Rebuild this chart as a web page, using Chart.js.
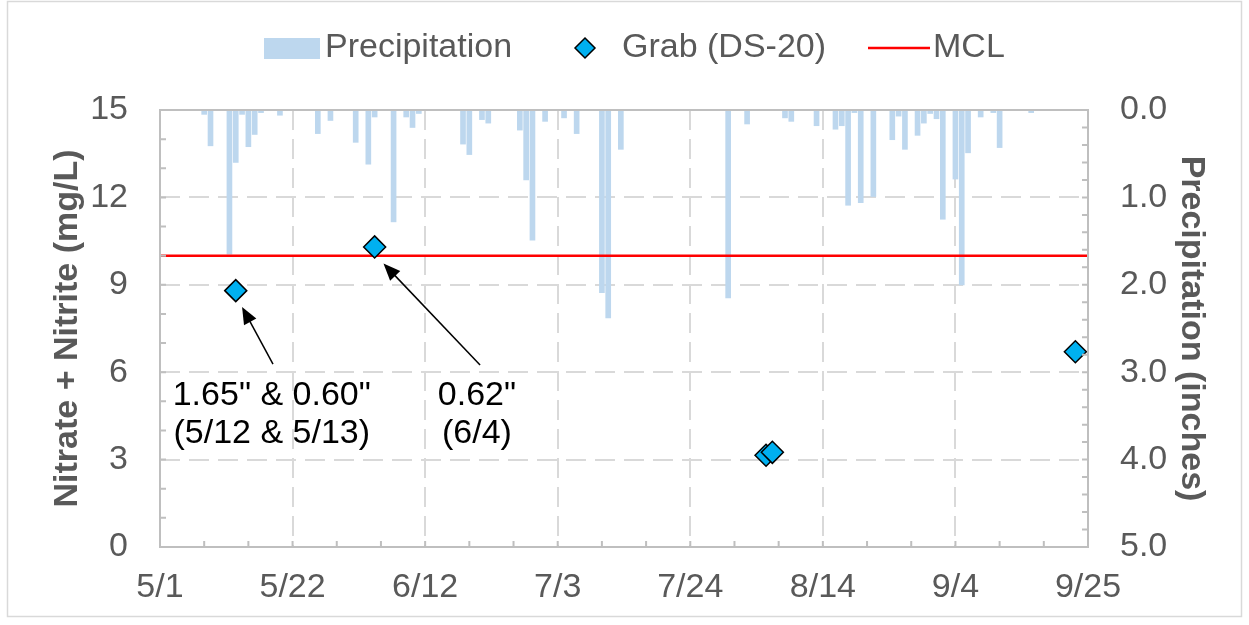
<!DOCTYPE html>
<html><head><meta charset="utf-8">
<script src="https://cdn.jsdelivr.net/npm/chart.js@4.4.1/dist/chart.umd.min.js"></script>
<style>html,body{margin:0;padding:0;background:#fff;} #wrap{width:1249px;height:625px;position:relative;}</style>
</head><body><div id="wrap"><canvas id="c" width="1249" height="625"></canvas></div>
<script>
// ---- data ----
const xTickLabels = ["5/1","5/22","6/12","7/3","7/24","8/14","9/4","9/25"];
const precipDates = ["5/8","5/9","5/12","5/13","5/14","5/15","5/16","5/17","5/20","5/26","5/28",
  "6/1","6/3","6/4","6/7","6/9","6/10","6/11","6/18","6/19","6/21","6/22","6/27","6/28","6/29",
  "7/1","7/4","7/6","7/10","7/11","7/13","7/30",
  "8/2","8/8","8/9","8/13","8/16","8/17","8/18","8/19","8/20","8/22","8/25","8/26","8/27","8/29","8/30","8/31",
  "9/1","9/2","9/4","9/5","9/6","9/8","9/10","9/11","9/16"];
const precipInches = [0.05,0.41,1.65,0.60,0.05,0.42,0.28,0.03,0.06,0.27,0.12,
  0.37,0.62,0.08,1.28,0.08,0.20,0.04,0.39,0.51,0.11,0.15,0.23,0.80,1.49,
  0.13,0.09,0.27,2.09,2.38,0.45,2.15,
  0.16,0.09,0.13,0.18,0.22,0.18,1.09,0.03,1.06,0.99,0.34,0.07,0.45,0.29,0.15,0.04,
  0.10,1.25,0.79,2.00,0.49,0.08,0.03,0.43,0.03];
const grabDates = ["5/13","6/4","8/5","8/6","9/23"];
const grabNitrate = [8.8,10.3,3.15,3.25,6.7];
const mclValue = 10;
const mclSpan = ["5/1","9/25"];
const legendLabels = ["Precipitation","Grab (DS-20)","MCL"];
const noteTexts = [["1.65\" & 0.60\"","(5/12 & 5/13)"],["0.62\"","(6/4)"]];

function dayOfSeason(s){const [m,d]=s.split('/').map(Number);return Math.round((Date.UTC(2021,m-1,d)-Date.UTC(2021,4,1))/86400000);}

const FONT='Liberation Sans, Arial, sans-serif';
const GRAY_TXT='#595959';

const framePlugin={id:'frame',
  beforeDraw(chart){const c=chart.ctx;c.save();c.fillStyle='#fff';c.fillRect(0,0,chart.width,chart.height);
    c.strokeStyle='#D9D9D9';c.lineWidth=1.5;c.strokeRect(7.5,1.5,1234,615);c.restore();},
  afterDatasetsDraw(chart){const c=chart.ctx,a=chart.chartArea,s=chart.scales;c.save();
    c.strokeStyle='#BFBFBF';c.lineWidth=2;c.strokeRect(a.left,a.top,a.right-a.left,a.bottom-a.top);
    c.beginPath();const L=6;
    for(let d=0;d<=147;d+=7){const x=s.x.getPixelForValue(d);c.moveTo(x,a.bottom);c.lineTo(x,a.bottom-L);}
    for(let v=0;v<=15;v+=1){const y=s.y.getPixelForValue(v);c.moveTo(a.left,y);c.lineTo(a.left+L,y);}
    for(let k=0;k<=25;k++){const y=s.y2.getPixelForValue(k*0.2);c.moveTo(a.right,y);c.lineTo(a.right-L,y);}
    c.stroke();c.restore();}
};

function arrow(c,x1,y1,x2,y2){const ang=Math.atan2(y2-y1,x2-x1),hl=17,hw=7;
  c.beginPath();c.moveTo(x1,y1);c.lineTo(x2-Math.cos(ang)*hl*0.8,y2-Math.sin(ang)*hl*0.8);c.stroke();
  c.beginPath();c.moveTo(x2,y2);
  c.lineTo(x2-hl*Math.cos(ang)+hw*Math.sin(ang),y2-hl*Math.sin(ang)-hw*Math.cos(ang));
  c.lineTo(x2-hl*Math.cos(ang)-hw*Math.sin(ang),y2-hl*Math.sin(ang)+hw*Math.cos(ang));
  c.closePath();c.fill();}

const notePlugin={id:'notes',afterDraw(chart){const c=chart.ctx,sx=chart.scales.x,sy=chart.scales.y;c.save();
  c.strokeStyle='#000';c.fillStyle='#000';c.lineWidth=1.5;
  const notes=[{tx:17.7,ty:[5.2,3.9],from:[17.9,6.28],to:[13.0,8.24]},{tx:50.2,ty:[5.2,3.9],from:[50.7,6.25],to:[35.4,9.73]}];
  notes.forEach((n,i)=>{arrow(c,sx.getPixelForValue(n.from[0]),sy.getPixelForValue(n.from[1]),sx.getPixelForValue(n.to[0]),sy.getPixelForValue(n.to[1]));
    c.font='34px '+FONT;c.textAlign='center';c.textBaseline='middle';
    noteTexts[i].forEach((t,j)=>c.fillText(t,sx.getPixelForValue(n.tx),sy.getPixelForValue(n.ty[j])));});
  // legend
  const y=48;c.font='34px '+FONT;c.textAlign='left';c.textBaseline='middle';c.fillStyle=GRAY_TXT;
  c.fillStyle='#BDD7EE';c.fillRect(264,38,56,21);c.fillStyle=GRAY_TXT;c.fillText(legendLabels[0],325,y);
  c.beginPath();c.moveTo(585,y-10);c.lineTo(595,y);c.lineTo(585,y+10);c.lineTo(575,y);c.closePath();
  c.fillStyle='#00B0F0';c.fill();c.strokeStyle='#000';c.lineWidth=1.5;c.stroke();
  c.fillStyle=GRAY_TXT;c.fillText(legendLabels[1],622,y);
  c.strokeStyle='#FF0000';c.lineWidth=2.5;c.beginPath();c.moveTo(868,y);c.lineTo(930,y);c.stroke();
  c.fillStyle=GRAY_TXT;c.fillText(legendLabels[2],933,y);
  c.restore();}};

const tickFont={family:FONT,size:34};
new Chart(document.getElementById('c'),{
  type:'bar',
  data:{datasets:[
    {type:'scatter',label:legendLabels[1],data:grabDates.map((d,i)=>({x:dayOfSeason(d),y:grabNitrate[i]})),yAxisID:'y',
      pointStyle:'rectRot',pointRadius:11,pointHoverRadius:11,backgroundColor:'#00B0F0',borderColor:'#000',borderWidth:1.5,order:0},
    {type:'line',label:legendLabels[2],data:mclSpan.map(d=>({x:dayOfSeason(d),y:mclValue})),yAxisID:'y',
      borderColor:'#FF0000',borderWidth:2.5,pointRadius:0,order:1},
    {type:'bar',label:legendLabels[0],data:precipDates.map((d,i)=>({x:dayOfSeason(d),y:precipInches[i]})),yAxisID:'y2',
      backgroundColor:'#BDD7EE',barThickness:5,order:2}
  ]},
  options:{responsive:false,animation:false,events:[],
    layout:{padding:{top:110,left:0,right:0,bottom:0}},
    plugins:{legend:{display:false},tooltip:{enabled:false}},
    scales:{
      x:{type:'linear',min:0,max:147,offset:false,afterFit:s=>{s.height=78;},
        ticks:{stepSize:21,autoSkip:false,maxRotation:0,padding:20,color:GRAY_TXT,font:tickFont,
          callback:v=>xTickLabels[Math.round(v/21)]??''},
        grid:{color:'#D9D9D9',lineWidth:2,drawTicks:false,offset:false},border:{display:false,dash:[20,9]}},
      y:{position:'left',min:0,max:15,afterFit:s=>{s.width=160;},
        ticks:{stepSize:3,padding:32,color:GRAY_TXT,font:tickFont},
        grid:{color:'#D9D9D9',lineWidth:2,drawTicks:false},border:{display:false,dash:[20,9]},
        title:{display:true,text:'Nitrate + Nitrite (mg/L)',color:GRAY_TXT,font:{family:FONT,size:34,weight:'bold'},padding:{top:47,bottom:0}}},
      y2:{position:'right',reverse:true,min:0,max:5,afterFit:s=>{s.width=161;},
        ticks:{stepSize:1,padding:32,color:GRAY_TXT,font:tickFont,callback:v=>Number(v).toFixed(1)},
        grid:{drawOnChartArea:false,drawTicks:false},border:{display:false},
        title:{display:true,text:'Precipitation (inches)',color:GRAY_TXT,font:{family:FONT,size:34,weight:'bold'},padding:{top:37,bottom:0}}}
    }},
  plugins:[framePlugin,notePlugin]
});
</script></body></html>
